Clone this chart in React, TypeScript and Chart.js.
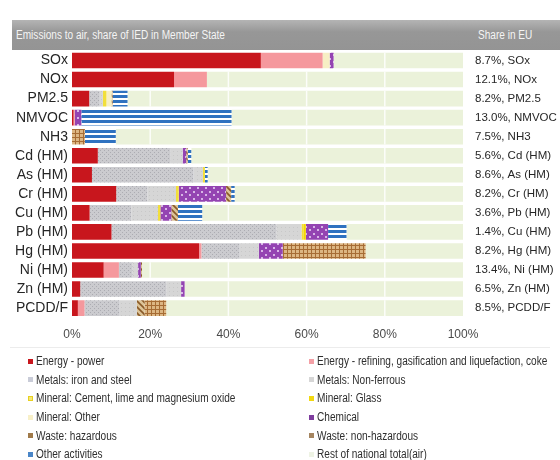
import React, { useEffect, useRef } from "react";
import { Chart, registerables } from "chart.js";

Chart.register(...registerables);

const categories = ["SOx", "NOx", "PM2.5", "NMVOC", "NH3", "Cd (HM)", "As (HM)", "Cr (HM)", "Cu (HM)", "Pb (HM)", "Hg (HM)", "Ni (HM)", "Zn (HM)", "PCDD/F"];
const shareLabels = ["8.7%, SOx", "12.1%, NOx", "8.2%, PM2.5", "13.0%, NMVOC", "7.5%, NH3", "5.6%, Cd (HM)", "8.6%, As (HM)", "8.2%, Cr (HM)", "3.6%, Pb (HM)", "1.4%, Cu (HM)", "8.2%, Hg (HM)", "13.4%, Ni (HM)", "6.5%, Zn (HM)", "8.5%, PCDD/F"];
const xTicks = [0, 20, 40, 60, 80, 100];

const energyPower = [48.3, 26.1, 4.4, 0.4, 0, 6.6, 5.1, 11.3, 4.5, 10.1, 32.5, 8.1, 2.1, 1.5];
const energyRefining = [15.8, 8.4, 0, 0.3, 0, 0, 0, 0, 0, 0, 0.6, 3.9, 0, 1.7];
const metalsIron = [0, 0, 2.7, 0, 0, 18.5, 26.0, 8.0, 10.7, 42.2, 9.8, 3.5, 22.0, 9.0];
const metalsNonFerrous = [0, 0, 0.8, 0, 0, 3.2, 2.4, 7.3, 6.8, 6.4, 4.9, 1.4, 3.8, 4.4];
const mineralCement = [0, 0, 0.9, 0, 0, 0, 0.5, 0.7, 0.6, 0.6, 0, 0, 0, 0];
const mineralGlass = [0, 0, 0, 0, 0, 0, 0, 0, 0, 0.5, 0, 0, 0, 0];
const mineralOther = [1.8, 0, 1.3, 0, 0, 0, 0, 0, 0, 0, 0, 0, 0, 0];
const chemical = [1.0, 0, 0, 1.7, 0, 0.9, 0, 12.1, 2.8, 5.7, 6.1, 0.7, 0.9, 0];
const wasteHazardous = [0, 0, 0.3, 0, 0, 0.4, 0, 1.3, 1.7, 0, 0, 0.3, 0, 2.0];
const wasteNonHazardous = [0, 0, 0, 0, 3.3, 0, 0, 0, 0, 0, 21.2, 0, 0, 5.5];
const otherActivities = [0, 0, 3.8, 38.4, 7.9, 0.9, 0.7, 0.9, 6.2, 4.7, 0, 0, 0, 0];
const restNational = [33.1, 65.5, 85.8, 59.2, 88.8, 69.5, 65.3, 58.4, 66.7, 29.8, 24.9, 82.1, 71.2, 75.9];

const seriesLabels = [
  "Energy - power",
  "Energy - refining, gasification and liquefaction, coke",
  "Metals: iron and steel",
  "Metals: Non-ferrous",
  "Mineral: Cement, lime and magnesium oxide",
  "Mineral: Glass",
  "Mineral: Other",
  "Chemical",
  "Waste: hazardous",
  "Waste: non-hazardous",
  "Other activities",
  "Rest of national total(air)",
];
const seriesData = [energyPower, energyRefining, metalsIron, metalsNonFerrous, mineralCement, mineralGlass, mineralOther, chemical, wasteHazardous, wasteNonHazardous, otherActivities, restNational];
const legendColors = ["#c8161d", "#f4a0a6", "#c9ccd8", "#d6d6d6", "#f4e878", "#f2d810", "#f8f0c8", "#7e3d9e", "#a07a4a", "#a58560", "#4a86c8", "#eef3e4"];

const FONT = '"Liberation Sans", Arial, sans-serif';

function makePattern(w: number, h: number, draw: (c: CanvasRenderingContext2D) => void) {
  const cv = document.createElement("canvas");
  cv.width = w;
  cv.height = h;
  const c = cv.getContext("2d")!;
  draw(c);
  return c.createPattern(cv, "repeat")!;
}

function buildFills(): any[] {
  const iron = makePattern(4, 4, (c) => {
    c.fillStyle = "#cbcbcf"; c.fillRect(0, 0, 4, 4);
    c.fillStyle = "#acacb2"; c.fillRect(0, 0, 1, 1); c.fillRect(2, 2, 1, 1);
  });
  const nonFer = makePattern(4, 4, (c) => {
    c.fillStyle = "#d6d6d6"; c.fillRect(0, 0, 4, 4);
    c.fillStyle = "#c8c8c8"; c.fillRect(1, 1, 1, 1);
  });
  const chem = makePattern(8, 7, (c) => {
    c.fillStyle = "#9444b2"; c.fillRect(0, 0, 8, 7);
    c.fillStyle = "#d7b6e6"; c.fillRect(1, 1, 2, 2); c.fillRect(5, 4, 2, 2);
  });
  const other = makePattern(2, 5, (c) => {
    c.fillStyle = "#ffffff"; c.fillRect(0, 0, 2, 5);
    c.fillStyle = "#2f72c0"; c.fillRect(0, 0, 2, 3);
  });
  const wasteH = makePattern(6, 6, (c) => {
    c.fillStyle = "#dcc498"; c.fillRect(0, 0, 6, 6);
    c.strokeStyle = "#8a5a28"; c.lineWidth = 1.6;
    c.beginPath(); c.moveTo(0, 0); c.lineTo(6, 6); c.moveTo(-3, 3); c.lineTo(3, 9); c.moveTo(3, -3); c.lineTo(9, 3); c.stroke();
  });
  const wasteN = makePattern(4, 4, (c) => {
    c.fillStyle = "#dcb683"; c.fillRect(0, 0, 4, 4);
    c.fillStyle = "#a66c34"; c.fillRect(3, 0, 1, 4); c.fillRect(0, 3, 4, 1);
  });
  return ["#c8161d", "#f5989d", iron, nonFer, "#f2df3a", "#f5d800", "#f7efc4", chem, wasteH, wasteN, other, "#ebf2da"];
}

const gridOverRest = {
  id: "gridOverRest",
  afterDatasetsDraw(chart: any) {
    const meta = chart.getDatasetMeta(seriesData.length - 1);
    const xs = chart.scales.x;
    const ctx = chart.ctx;
    ctx.save();
    ctx.strokeStyle = "rgba(255,255,255,0.85)";
    ctx.lineWidth = 1.5;
    meta.data.forEach((bar: any) => {
      const p = bar.getProps(["x", "base", "y", "height"], true);
      const l = Math.min(p.x, p.base), r = Math.max(p.x, p.base);
      xTicks.forEach((v) => {
        const px = xs.getPixelForValue(v);
        if (px > l + 1 && px < r - 1) {
          ctx.beginPath();
          ctx.moveTo(px, p.y - p.height / 2);
          ctx.lineTo(px, p.y + p.height / 2);
          ctx.stroke();
        }
      });
    });
    ctx.restore();
  },
};

const noPad = (s: any) => {
  s.paddingTop = 0;
  s.paddingBottom = 0;
  s.paddingLeft = 0;
  s.paddingRight = 0;
};

export default function App() {
  const ref = useRef<HTMLCanvasElement | null>(null);

  useEffect(() => {
    if (!ref.current) return;
    const fills = buildFills();
    const chart = new Chart(ref.current, {
      type: "bar",
      data: {
        labels: categories,
        datasets: seriesLabels.map((label, i) => ({
          label,
          data: seriesData[i],
          backgroundColor: fills[i],
          borderWidth: 0,
          barPercentage: 0.82,
          categoryPercentage: 1,
        })),
      },
      options: {
        indexAxis: "y",
        animation: false,
        responsive: false,
        maintainAspectRatio: false,
        layout: { padding: { top: 1, bottom: 0, left: 10, right: 0 } },
        plugins: { legend: { display: false }, tooltip: { enabled: false } },
        scales: {
          x: {
            type: "linear",
            stacked: true,
            min: 0,
            max: 100,
            grid: { display: false, drawTicks: false },
            border: { display: false },
            afterBuildTicks: (s: any) => { s.ticks = xTicks.map((v) => ({ value: v })); },
            afterFit: noPad,
            ticks: {
              padding: 10,
              color: "#4a4a4a",
              font: { family: FONT, size: 12 },
              callback: (v: any) => v + "%",
            },
          },
          y: {
            type: "category",
            stacked: true,
            grid: { display: false, drawTicks: false },
            border: { display: false },
            afterFit: (s: any) => { noPad(s); s.width = 62; },
            ticks: { autoSkip: false, padding: 4, color: "#262626", font: { family: FONT, size: 14 } },
          },
          y2: {
            type: "category",
            position: "right",
            labels: shareLabels,
            offset: true,
            grid: { display: false, drawTicks: false },
            border: { display: false },
            afterFit: (s: any) => { noPad(s); s.width = 97; },
            ticks: { autoSkip: false, padding: 12, color: "#262626", font: { family: FONT, size: 11.5 } },
          },
        },
      },
      plugins: [gridOverRest],
    });
    return () => chart.destroy();
  }, []);

  const cond: React.CSSProperties = { display: "inline-block", transform: "scaleX(0.84)", transformOrigin: "left center", whiteSpace: "nowrap" };

  return (
    <div style={{ position: "fixed", left: 0, top: 0, width: 560, height: 460, background: "#fff", fontFamily: FONT, overflow: "hidden" }}>
      <div
        style={{
          position: "absolute", left: 12, top: 20, width: 548, height: 30,
          background: "linear-gradient(#b4b4b4, #979797 40%, #949494)",
          color: "#f4f4f4", fontSize: 12, lineHeight: "30px",
        }}
      >
        <span style={{ ...cond, position: "absolute", left: 4 }}>Emissions to air, share of IED in Member State</span>
        <span style={{ ...cond, position: "absolute", left: 466 }}>Share in EU</span>
      </div>
      <div style={{ position: "absolute", left: 0, top: 50, width: 560, height: 302 }}>
        <canvas ref={ref} width={560} height={302} style={{ display: "block", width: 560, height: 302 }} />
      </div>
      <div style={{ position: "absolute", left: 10, top: 347, width: 540, borderTop: "1px solid #ececec" }} />
      <div
        style={{
          position: "absolute", left: 28, top: 352, width: 532,
          display: "grid", gridTemplateColumns: "281px 251px", rowGap: 0,
          fontSize: 12, color: "#2e2e2e",
        }}
      >
        {seriesLabels.map((label, i) => (
          <div key={label} style={{ height: 18.6, display: "flex", alignItems: "center", whiteSpace: "nowrap" }}>
            <span style={{ display: "inline-block", flex: "none", width: 5, height: 5, background: legendColors[i], marginRight: 3, border: i === 4 ? "1px solid #e8d020" : "none", boxSizing: "border-box" }} />
            <span style={cond}>{label}</span>
          </div>
        ))}
      </div>
    </div>
  );
}
